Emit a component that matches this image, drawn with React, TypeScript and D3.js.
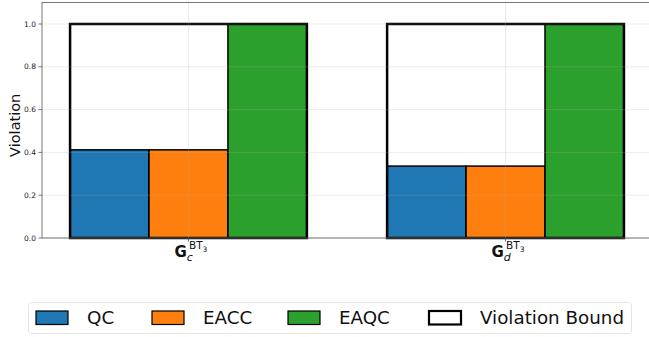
import React, { useEffect, useRef } from 'react';
import * as d3 from 'd3';

// chart data
const GROUPS = ['c', 'd'];
const SERIES = ['QC', 'EACC', 'EAQC'];
const COLORS = ['#1f77b4', '#ff7f0e', '#2ca02c'];
const QC_VALUES = [0.412, 0.336];
const EACC_VALUES = [0.412, 0.336];
const EAQC_VALUES = [1.0, 1.0];
const BOUND_VALUES = [1.0, 1.0];
const Y_TICKS = [0, 0.2, 0.4, 0.6, 0.8, 1.0];

const W = 649;
const H = 337;

const App = () => {
  const ref = useRef<SVGSVGElement | null>(null);

  useEffect(() => {
    const svg = d3.select(ref.current);
    svg.selectAll('*').remove();

    const left = 42, right = 652, top = 2.6, bottom = 238;
    const font = 'DejaVu Sans';

    const x = d3.scaleLinear().domain([-0.462, 1.462]).range([left, right]);
    const y = d3.scaleLinear().domain([0, 1.1]).range([bottom, top]);
    const barW = 0.249;
    const values = [QC_VALUES, EACC_VALUES, EAQC_VALUES];

    const g = svg.append('g');

    // bars
    GROUPS.forEach((_, gi) => {
      SERIES.forEach((_, si) => {
        const x0 = x(gi - 1.5 * barW + si * barW);
        const x1 = x(gi - 1.5 * barW + (si + 1) * barW);
        g.append('rect')
          .attr('x', x0).attr('width', x1 - x0)
          .attr('y', y(values[si][gi])).attr('height', y(0) - y(values[si][gi]))
          .attr('fill', COLORS[si])
          .attr('stroke', '#000').attr('stroke-width', 1.5);
      });
      // violation bound outline
      const bx0 = x(gi - 1.5 * barW);
      const bx1 = x(gi + 1.5 * barW);
      g.append('rect')
        .attr('x', bx0).attr('width', bx1 - bx0)
        .attr('y', y(BOUND_VALUES[gi])).attr('height', y(0) - y(BOUND_VALUES[gi]))
        .attr('fill', 'none')
        .attr('stroke', '#000').attr('stroke-width', 2.5);
    });

    // grid (drawn over bars)
    const grid = svg.append('g').attr('stroke', '#b0b0b0').attr('stroke-opacity', 0.3).attr('stroke-width', 0.8);
    Y_TICKS.forEach(t => {
      grid.append('line').attr('x1', left).attr('x2', right).attr('y1', y(t)).attr('y2', y(t));
    });
    GROUPS.forEach((_, gi) => {
      grid.append('line').attr('x1', x(gi)).attr('x2', x(gi)).attr('y1', top).attr('y2', bottom);
    });

    // spines
    svg.append('rect')
      .attr('x', left).attr('y', top).attr('width', right - left).attr('height', bottom - top)
      .attr('fill', 'none').attr('stroke', '#555').attr('stroke-width', 0.8);

    // y ticks
    const yt = svg.append('g');
    Y_TICKS.forEach(t => {
      yt.append('line').attr('x1', left - 3.5).attr('x2', left).attr('y1', y(t)).attr('y2', y(t))
        .attr('stroke', '#555').attr('stroke-width', 0.8);
      yt.append('text').attr('x', left - 6).attr('y', y(t)).attr('dy', '0.35em')
        .attr('text-anchor', 'end').attr('font-family', font).attr('font-size', 7.5)
        .attr('fill', '#222').text(t.toFixed(1));
    });

    svg.append('text')
      .attr('transform', `translate(20,${(top + bottom) / 2 + 5}) rotate(-90)`)
      .attr('text-anchor', 'middle').attr('font-family', font).attr('font-size', 14.5)
      .attr('fill', '#111').text('Violation');

    // x ticks with labels G_c^{BT_3}
    GROUPS.forEach((sub, gi) => {
      const cx = x(gi);
      svg.append('line').attr('x1', cx).attr('x2', cx).attr('y1', bottom).attr('y2', bottom + 3.5)
        .attr('stroke', '#555').attr('stroke-width', 0.8);
      const t = svg.append('text')
        .attr('x', cx - 14).attr('y', 257)
        .attr('font-family', font).attr('fill', '#111');
      t.append('tspan').attr('font-size', 15).attr('font-weight', 'bold').text('G');
      t.append('tspan').attr('font-size', 11).attr('font-style', 'italic').attr('dx', 0).attr('dy', 3.5).text(sub);
      const sup = svg.append('text')
        .attr('x', cx + 0.5).attr('y', 249)
        .attr('font-family', font).attr('fill', '#111').attr('font-size', 10.5);
      sup.append('tspan').text('BT');
      sup.append('tspan').attr('font-size', 7.5).attr('dy', 2.5).text('3');
    });

    // legend
    const lg = svg.append('g');
    lg.append('rect').attr('x', 28.5).attr('y', 302.5).attr('width', 603).attr('height', 31).attr('rx', 3)
      .attr('fill', '#fff').attr('stroke', '#ddd').attr('stroke-width', 0.8);
    const items = [...SERIES, 'Violation Bound'];
    const itemX = [36, 152, 288, 429];
    items.forEach((name, i) => {
      const isBound = i === 3;
      lg.append('rect').attr('x', itemX[i]).attr('y', 311).attr('width', 32).attr('height', 13.5)
        .attr('fill', isBound ? '#fff' : COLORS[i])
        .attr('stroke', '#000').attr('stroke-width', isBound ? 2.2 : 1.2);
      lg.append('text').attr('x', itemX[i] + 51).attr('y', 318).attr('dy', '0.35em')
        .attr('font-family', font).attr('font-size', 18.3).attr('fill', '#111').text(name);
    });
  }, []);

  return (
    <svg ref={ref} width={W} height={H} style={{ position: 'absolute', left: 0, top: 0, background: '#fff' }} />
  );
};

export default App;
